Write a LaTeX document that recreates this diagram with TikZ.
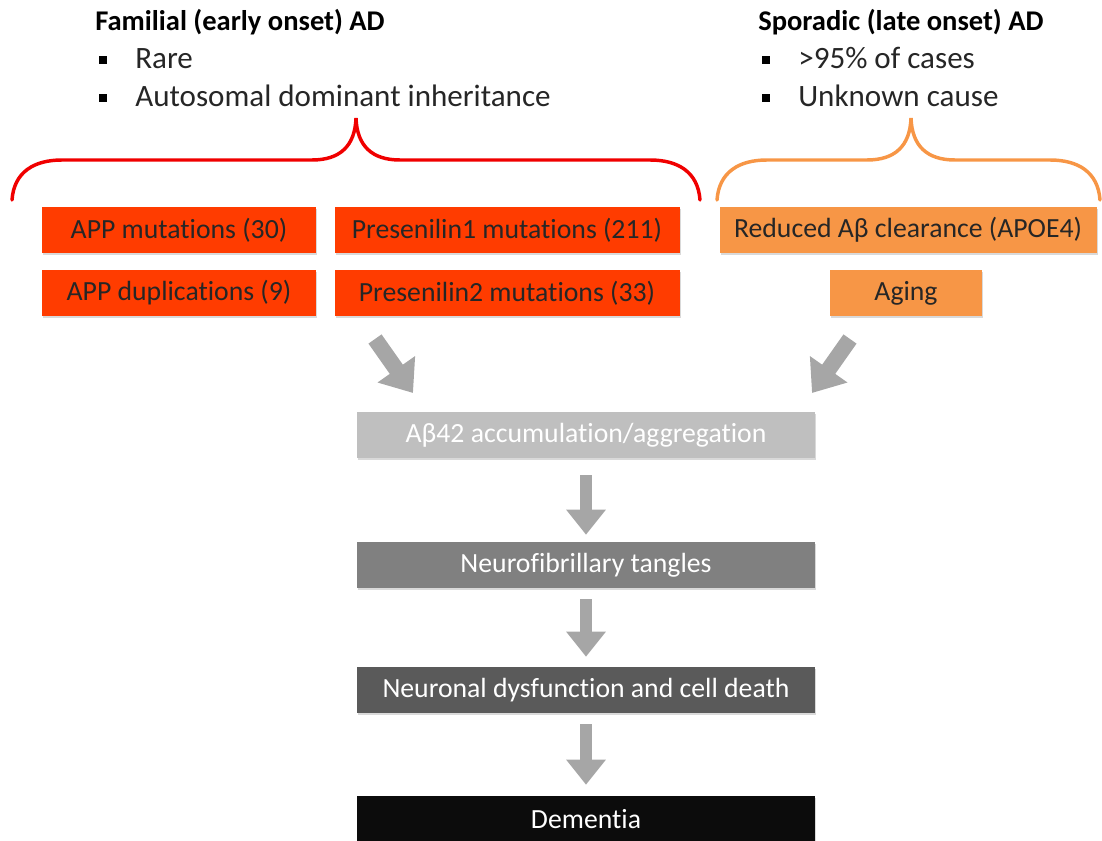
\documentclass[tikz,border=0pt]{standalone}
\usepackage{fontspec}
\setmainfont[Ligatures=NoCommon]{Carlito}
\usetikzlibrary{arrows.meta,shadows}
\definecolor{famred}{RGB}{255,60,0}
\definecolor{bracered}{RGB}{240,0,0}
\definecolor{sporange}{RGB}{247,150,70}
\definecolor{arrowgray}{RGB}{166,166,166}
\definecolor{abgray}{RGB}{191,191,191}
\definecolor{tanglegray}{RGB}{128,128,128}
\definecolor{neurongray}{RGB}{90,90,90}
\definecolor{demblack}{RGB}{12,12,12}

\begin{document}
\begin{tikzpicture}[x=0.75pt,y=-0.75pt]
                \tikzstyle{block} = [rectangle, inner sep=0pt, minimum height=34.5pt, font=\fontsize{20.8}{24}\selectfont, drop shadow={shadow xshift=1pt, shadow yshift=-1.5pt, opacity=0.3}]
                \tikzstyle{famblock} = [block, fill=famred, text=black!85, minimum width=205.5pt]
                \tikzstyle{psblock} = [famblock, minimum width=258.75pt]
                \tikzstyle{spoblock} = [block, fill=sporange, text=black!85]
                \tikzstyle{chainblock} = [block, text=white, minimum width=343.5pt]
                \tikzstyle{heading} = [anchor=base west, inner sep=0pt, font=\fontsize{21.4}{26}\selectfont\bfseries]
                \tikzstyle{bullettext} = [anchor=base west, inner sep=0pt, font=\fontsize{23.3}{28}\selectfont, text=black!85]
                \tikzstyle{bulletsq} = [fill=black, inner sep=0pt, minimum size=6.5pt]
                \tikzstyle{brace} = [line width=2.6pt, line cap=round]
                \tikzstyle{fatarrow} = [draw=arrowgray, line width=9pt, -{Triangle[length=18.75pt,width=28.5pt]}]
                \tikzstyle{slantarrow} = [draw=arrowgray, line width=12pt, -{Triangle[length=21.75pt,width=33pt]}]

                \useasboundingbox (0,0) rectangle (1102,841);

                % Headings
                \node[heading] (famhead) at (95,31) {Familial (early onset) AD};
                \node[bulletsq] (fambul1) at (103,60) {};
                \node[bullettext] (famtxt1) at (135,69) {Rare};
                \node[bulletsq] (fambul2) at (103,98) {};
                \node[bullettext] (famtxt2) at (135,107) {Autosomal dominant inheritance};

                \node[heading] (spohead) at (758,31) {Sporadic (late onset) AD};
                \node[bulletsq] (spobul1) at (766,60) {};
                \node[bullettext] (spotxt1) at (798,69) {>95\% of cases};
                \node[bulletsq] (spobul2) at (766,98) {};
                \node[bullettext] (spotxt2) at (798,107) {Unknown cause};

                % Braces
                \draw[brace, bracered] (12,200) .. controls (14,172) and (34,160) .. (62,160)
                    -- (312,160) .. controls (340,160) and (355,146) .. (356,118)
                    .. controls (357,146) and (372,160) .. (400,160)
                    -- (650,160) .. controls (678,160) and (698,172) .. (700,200);
                \draw[brace, sporange] (717,200) .. controls (719,172) and (739,160) .. (767,160)
                    -- (867,160) .. controls (895,160) and (910,146) .. (911,118)
                    .. controls (912,146) and (927,160) .. (955,160)
                    -- (1050,160) .. controls (1078,160) and (1098,172) .. (1100,200);

                % Familial causes
                \node[famblock] (app) at (179,230) {APP mutations (30)};
                \node[psblock] (psone) at (507,230) {Presenilin1 mutations (211)};
                \node[famblock] (appdup) at (179,293) {APP duplications (9)};
                \node[psblock] (pstwo) at (507,293) {Presenilin2 mutations (33)};

                % Sporadic causes
                \node[spoblock, minimum width=282.75pt] (apoe) at (908,230) {Reduced Aβ clearance (APOE4)};
                \node[spoblock, minimum width=114pt] (aging) at (906,293) {Aging};

                % Cascade
                \node[chainblock, fill=abgray] (abeta) at (586,435) {Aβ42 accumulation/aggregation};
                \node[chainblock, fill=tanglegray] (tangles) at (586,565) {Neurofibrillary tangles};
                \node[chainblock, fill=neurongray] (neuron) at (586,690) {Neuronal dysfunction and cell death};
                \node[chainblock, fill=demblack] (dementia) at (586,819) {Dementia};

                % Slanted arrows
                \coordinate (famstart) at (375,339);
                \coordinate (famend) at (413,393);
                \coordinate (spostart) at (850,339);
                \coordinate (spoend) at (812,393);
                \draw[slantarrow] (famstart) -- (famend);
                \draw[slantarrow] (spostart) -- (spoend);

                % Down arrows
                \draw[fatarrow, shorten <=12.75pt, shorten >=5.25pt] (abeta.south) -- (tangles.north);
                \draw[fatarrow, shorten <=8.25pt, shorten >=7.5pt] (tangles.south) -- (neuron.north);
                \draw[fatarrow, shorten <=8.25pt, shorten >=8.25pt] (neuron.south) -- (dementia.north);
            \end{tikzpicture}
\end{document}
